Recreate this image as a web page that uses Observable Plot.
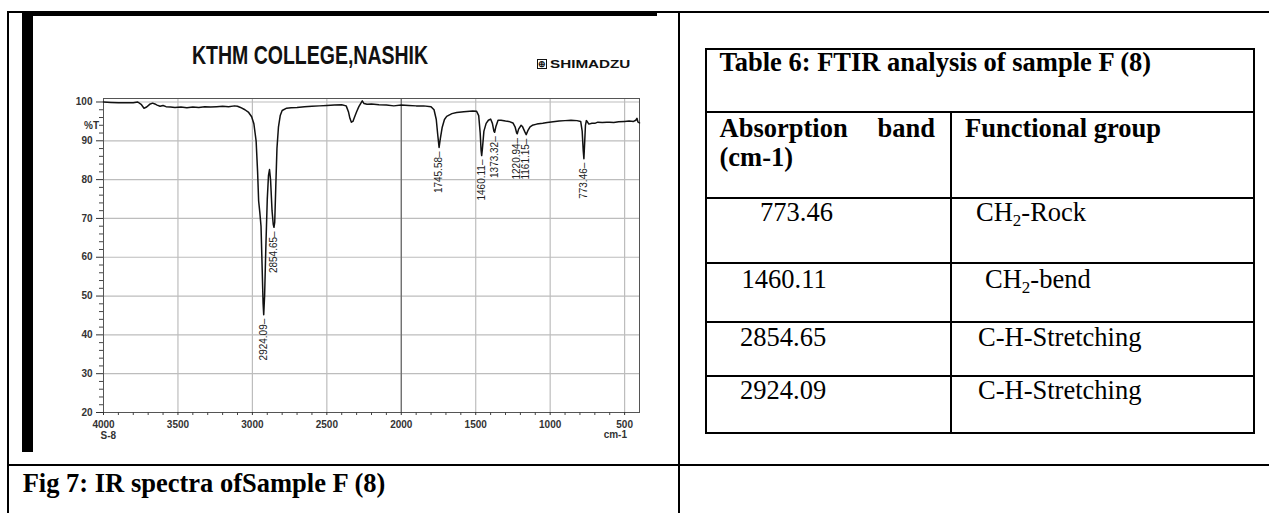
<!DOCTYPE html>
<html><head><meta charset="utf-8">
<script src="https://cdn.jsdelivr.net/npm/d3@7"></script>
<script src="https://cdn.jsdelivr.net/npm/@observablehq/plot@0.6"></script>
<style>
html,body{margin:0;padding:0;background:#fff;}
body{width:1269px;height:513px;position:relative;overflow:hidden;font-family:"Liberation Serif","Times New Roman",serif;}
.ln{position:absolute;background:#000;}
.t{position:absolute;white-space:nowrap;font-size:26.5px;line-height:26.5px;color:#000;}
.b{font-weight:bold;}
.t sub{font-size:17px;vertical-align:-5px;line-height:0;}
#chart{position:absolute;left:40px;top:88px;}
#ctitle{position:absolute;left:120px;width:380px;top:42px;text-align:center;font-family:"Liberation Sans",Arial,sans-serif;font-weight:bold;font-size:26px;line-height:26px;color:#111;transform:scaleX(0.75);transform-origin:190px 0;white-space:nowrap;}
#logo{position:absolute;left:537px;top:60px;font-family:"Liberation Sans",Arial,sans-serif;white-space:nowrap;color:#111;}
#logo .box{position:absolute;left:0;top:-1px;width:8px;height:8px;border:1.3px solid #111;font-size:9px;line-height:8px;text-align:center;font-weight:bold;}
#logo .txt{position:absolute;left:13px;top:-1.5px;font-size:10.5px;line-height:11px;font-weight:bold;transform:scaleX(1.45);transform-origin:0 0;}
</style></head><body>
<div id="frame"></div>
<div id="chart"></div>
<script>
// ---- chart data ----
const wavenumber = [4000,3950,3900,3850,3800,3770,3745,3728,3710,3690,3670,3655,3640,3620,3600,3580,3550,3520,3480,3440,3400,3360,3320,3280,3240,3200,3160,3120,3100,3080,3050,3025,3005,2990,2975,2965,2958,2950,2942,2935,2928,2924,2918,2910,2900,2892,2885,2878,2868,2860,2855,2850,2843,2835,2825,2813,2800,2770,2740,2700,2650,2600,2550,2500,2450,2400,2370,2355,2345,2335,2325,2315,2300,2285,2270,2262,2250,2230,2200,2150,2100,2050,2000,1950,1900,1850,1800,1780,1765,1755,1746,1738,1725,1710,1695,1660,1628,1580,1520,1494,1480,1470,1464,1460,1455,1445,1430,1415,1400,1388,1378,1373,1365,1350,1330,1300,1278,1250,1235,1225,1221,1212,1195,1185,1170,1161,1150,1135,1120,1090,1050,1020,980,940,900,860,820,795,785,778,773.5,769,763,757,750,740,720,700,680,650,620,600,573,540,500,470,440,425,417,410,400];
const transmittance = [100.0,99.9,99.8,99.8,99.8,100.0,99.3,98.4,98.7,99.4,99.7,99.5,99.2,98.9,99.1,98.8,98.7,98.6,98.7,98.5,98.7,98.6,98.8,98.7,98.8,98.9,98.8,99.0,98.9,98.6,98.0,97.3,96.2,94.4,90.0,82.0,74.5,71.5,68.0,58.0,48.0,45.2,50.0,62.0,75.0,81.0,82.6,80.0,72.0,68.5,67.7,69.0,78.0,88.0,93.5,96.5,97.8,98.4,98.5,98.6,98.8,98.9,99.0,99.1,99.2,99.3,99.0,97.5,95.8,94.8,95.0,96.0,97.5,98.8,99.8,100.3,99.6,99.4,99.5,99.3,99.2,99.0,99.2,99.1,99.0,99.0,98.8,98.0,95.5,91.5,88.3,90.5,93.5,95.5,96.3,97.0,97.3,97.5,97.7,97.6,96.5,92.0,87.5,86.2,88.0,92.5,94.5,95.3,95.6,94.5,92.5,92.2,93.6,95.3,95.3,95.1,95.0,94.6,93.5,92.0,91.8,93.0,94.0,93.6,92.3,91.6,92.6,93.6,94.0,94.3,94.5,94.7,94.9,95.1,95.2,95.3,95.2,95.0,92.5,87.5,85.4,89.0,94.0,95.2,94.9,94.3,94.5,94.5,94.8,94.7,94.8,94.8,94.7,94.9,95.0,95.1,95.0,95.3,95.8,94.8,94.6];
const peakWavenumber = [2924.09, 2854.65, 1745.58, 1460.11, 1373.32, 1220.94, 1161.15, 773.46];
const peakTransmittance = [45.2, 67.7, 88.3, 86.2, 92.2, 91.8, 91.6, 85.4];
const peakLabels = ["2924.09", "2854.65", "1745.58", "1460.11", "1373.32", "1220.94", "1161.15", "773.46"];
const xTicks = [4000, 3500, 3000, 2500, 2000, 1500, 1000, 500];
const yTicks = [20, 30, 40, 50, 60, 70, 80, 90, 100];
const chartTitle = "KTHM COLLEGE,NASHIK";
const brand = "SHIMADZU";
const yUnit = "%T";
const sampleName = "S-8";
const xUnit = "cm-1";

// ---- table data ----
const tableTitle = "Table 6: FTIR analysis of sample F (8)";
const headBand = ["Absorption", "band", "(cm-1)"];
const headGroup = "Functional group";
const bands = ["773.46", "1460.11", "2854.65", "2924.09"];
const groups = ["CH<sub>2</sub>-Rock", "CH<sub>2</sub>-bend", "C-H-Stretching", "C-H-Stretching"];
const figCaption = "Fig 7: IR spectra ofSample F (8)";

// ---- page frame (table cells) ----
const F = document.getElementById("frame");
function line(l, t, w, h) { const d = document.createElement("div"); d.className = "ln"; Object.assign(d.style, {left: l + "px", top: t + "px", width: w + "px", height: h + "px"}); F.appendChild(d); }
function text(str, l, top, cls, right) { const d = document.createElement("div"); d.className = "t " + (cls || ""); d.innerHTML = str; d.style.top = top + "px"; if (right != null) d.style.right = right + "px"; else d.style.left = l + "px"; F.appendChild(d); }
// outer layout table
line(7, 11, 1262, 2); line(7, 11, 2, 502); line(678, 11, 2, 502); line(7, 464, 1262, 2);
// image borders
line(22, 12, 11, 440); line(22, 12, 635, 4);
// right table
line(705, 48, 550, 2); line(705, 111, 550, 2); line(705, 197, 550, 2); line(705, 262, 550, 2);
line(705, 321, 550, 2); line(705, 375, 550, 2); line(705, 432, 550, 2);
line(705, 48, 2, 386); line(1253, 48, 2, 386); line(950, 111, 2, 323);
text(tableTitle, 719.5, 48.5, "b");
text(headBand[0], 719.5, 114.5, "b");
text(headBand[1], null, 114.5, "b", 334);
text(headBand[2], 719.5, 143.5, "b");
text(headGroup, 965, 114.5, "b");
const bandLeft = [760, 741.5, 740, 740];
const groupLeft = [976, 985, 978, 978];
const rowBase = [221.5, 288, 346.5, 399];
bands.forEach((b, i) => { text(b, bandLeft[i], rowBase[i] - 22.2); text(groups[i], groupLeft[i], rowBase[i] - 22.2); });
text(figCaption, 22.7, 469.5, "b");

// chart header
const ct = document.createElement("div"); ct.id = "ctitle"; ct.textContent = chartTitle; document.body.appendChild(ct);
const lg = document.createElement("div"); lg.id = "logo"; lg.innerHTML = '<span class="box">⊕</span><span class="txt"></span>'; lg.querySelector(".txt").textContent = brand; document.body.appendChild(lg);

// ---- chart ----
const spectrum = wavenumber.map((w, i) => ({w, t: transmittance[i]}));
const peaks = peakWavenumber.map((w, i) => ({w, t: peakTransmittance[i], label: peakLabels[i] + "\u2013"}));
const xMinor = d3.range(3900, 400, -100).filter(v => v % 500 !== 0);
const yMinor = d3.range(22, 100, 2).filter(v => v % 10 !== 0);
const plain = d => String(d);

const chart = Plot.plot({
  width: 617, height: 364,
  marginLeft: 63, marginRight: 18, marginTop: 10, marginBottom: 40,
  style: {fontFamily: "'Liberation Sans', Arial, sans-serif", fontSize: "10px", color: "#333", background: "transparent", overflow: "visible"},
  x: {domain: [4000, 400]},
  y: {domain: [20, 100.9]},
  marks: [
    Plot.gridX(xTicks.slice(1), {stroke: "#bdbdbd", strokeOpacity: 1, strokeWidth: 1.2}),
    Plot.gridY(yTicks.slice(1), {stroke: "#bdbdbd", strokeOpacity: 1, strokeWidth: 1.2}),
    Plot.ruleX([2000], {stroke: "#666", strokeWidth: 1.2}),
    Plot.frame({stroke: "#555", strokeWidth: 1}),
    Plot.axisY(yMinor, {tickSize: 4, tickFormat: () => "", label: null, color: "#444"}),
    Plot.axisY(yTicks, {tickSize: 7, tickPadding: 4, tickFormat: plain, label: null, fontSize: 10, fontWeight: "bold", color: "#333"}),
    Plot.axisX(xMinor, {tickSize: 3, tickFormat: () => "", label: null, color: "#444"}),
    Plot.axisX(xTicks, {tickSize: 3, tickPadding: 5, tickFormat: plain, label: null, fontSize: 10, fontWeight: "bold", color: "#333"}),
    Plot.line(spectrum, {x: "w", y: "t", stroke: "#111", strokeWidth: 1.5}),
    Plot.text(peaks, {x: "w", y: "t", text: "label", rotate: -90, textAnchor: "end", dy: 4, fontSize: 10, fill: "#222"}),
    Plot.text([yUnit], {frameAnchor: "top-left", text: d => d, dx: -19.5, dy: 23, fontSize: 10, fontWeight: "bold", fill: "#333"}),
    Plot.text([sampleName], {frameAnchor: "bottom-left", text: d => d, dx: -3, dy: 26, fontSize: 10, fontWeight: "bold", fill: "#333"}),
    Plot.text([xUnit], {frameAnchor: "bottom-right", text: d => d, dx: -12.5, dy: 25.5, fontSize: 10, fontWeight: "bold", fill: "#333"})
  ]
});
document.getElementById("chart").appendChild(chart);
</script>
</body></html>
